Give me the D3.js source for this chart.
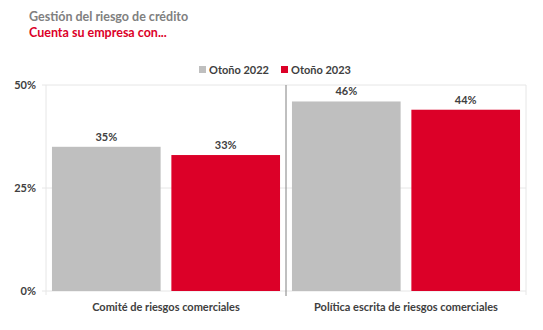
<!DOCTYPE html>
<html>
<head>
<meta charset="utf-8">
<script src="https://cdn.jsdelivr.net/npm/d3@7"></script>
<style>
  body { margin: 0; background: #fff; }
  text { font-family: Lato, "Open Sans", sans-serif; }
</style>
</head>
<body>
<div class="js-chart"></div>
<script>
'use strict';

//chart data
var categories = ['Comité de riesgos comerciales', 'Política escrita de riesgos comerciales'];
var seriesNames = ['Otoño 2022', 'Otoño 2023'];
var seriesColors = ['#bfbfbf', '#dc0028'];
var values2022 = [35, 46];
var values2023 = [33, 44];
var yTicks = [0, 25, 50];

var W = 543, H = 330;
var margin = { top: 85, right: 17, bottom: 39, left: 46 };

var svg = d3.select('.js-chart').append('svg')
    .attr('width', W)
    .attr('height', H);

//title lines
svg.append('text')
    .attr('x', 29).attr('y', 21)
    .style('font-size', '12.5px').style('font-weight', 700)
    .style('fill', '#808080')
    .text('Gestión del riesgo de crédito');
svg.append('text')
    .attr('x', 29).attr('y', 37)
    .style('font-size', '12.5px').style('font-weight', 700)
    .style('fill', '#dc0028')
    .text('Cuenta su empresa con...');

var x0 = d3.scaleBand()
    .domain(categories)
    .range([margin.left, W - margin.right])
    .paddingInner(0)
    .paddingOuter(0);

var x1 = d3.scaleBand()
    .domain(seriesNames)
    .range([0, x0.bandwidth()])
    .paddingInner(0.09)
    .paddingOuter(0.05);

var y = d3.scaleLinear()
    .domain([0, 50])
    .range([H - margin.bottom, margin.top]);

//gridlines
svg.selectAll('.js-grid').data(yTicks).enter().append('line')
    .attr('class', 'js-grid')
    .attr('x1', margin.left - 4)
    .attr('x2', W - margin.right)
    .attr('y1', function (d) { return y(d); })
    .attr('y2', function (d) { return y(d); })
    .style('stroke', '#e6e6e6');

//plot borders
svg.append('line')
    .attr('x1', margin.left).attr('x2', margin.left)
    .attr('y1', y(50)).attr('y2', y(0) + 4)
    .style('stroke', '#e6e6e6');
svg.append('line')
    .attr('x1', W - margin.right).attr('x2', W - margin.right)
    .attr('y1', y(50)).attr('y2', y(0) + 4)
    .style('stroke', '#e6e6e6');

//y tick labels
svg.selectAll('.js-ytick').data(yTicks).enter().append('text')
    .attr('class', 'js-ytick')
    .attr('x', 36)
    .attr('y', function (d) { return y(d) + 4; })
    .attr('text-anchor', 'end')
    .style('font-size', '11px').style('font-weight', 700)
    .style('fill', '#404040')
    .text(function (d) { return d + '%'; });

//bars
var rows = categories.map(function (c, i) {
    return [
        { cat: c, series: seriesNames[0], value: values2022[i], color: seriesColors[0] },
        { cat: c, series: seriesNames[1], value: values2023[i], color: seriesColors[1] }
    ];
});
var bars = d3.merge(rows);

svg.selectAll('.js-bar').data(bars).enter().append('rect')
    .attr('class', 'js-bar')
    .attr('x', function (d) { return x0(d.cat) + x1(d.series); })
    .attr('y', function (d) { return y(d.value); })
    .attr('width', x1.bandwidth())
    .attr('height', function (d) { return y(0) - y(d.value); })
    .style('fill', function (d) { return d.color; });

//value labels
svg.selectAll('.js-val').data(bars).enter().append('text')
    .attr('class', 'js-val')
    .attr('x', function (d) { return x0(d.cat) + x1(d.series) + x1.bandwidth() / 2; })
    .attr('y', function (d) { return y(d.value) - 6; })
    .attr('text-anchor', 'middle')
    .style('font-size', '11px').style('font-weight', 700)
    .style('fill', '#404040')
    .text(function (d) { return d.value + '%'; });

//separator between categories
svg.selectAll('.js-sep').data(categories.slice(1)).enter().append('line')
    .attr('class', 'js-sep')
    .attr('x1', function (d) { return x0(d); })
    .attr('x2', function (d) { return x0(d); })
    .attr('y1', y(50))
    .attr('y2', y(0) + 5)
    .style('stroke', '#808080');

//category labels
svg.selectAll('.js-cat').data(categories).enter().append('text')
    .attr('class', 'js-cat')
    .attr('x', function (d) { return x0(d) + x0.bandwidth() / 2; })
    .attr('y', 311)
    .attr('text-anchor', 'middle')
    .style('font-size', '11px').style('font-weight', 700)
    .style('fill', '#404040')
    .text(function (d) { return d; });

//legend
var legendX = [199, 281];
var legend = svg.selectAll('.js-leg').data(seriesNames).enter().append('g')
    .attr('class', 'js-leg')
    .attr('transform', function (d, i) { return 'translate(' + legendX[i] + ',66)'; });
legend.append('rect')
    .attr('width', 7).attr('height', 7)
    .style('fill', function (d, i) { return seriesColors[i]; });
legend.append('text')
    .attr('x', 10).attr('y', 8)
    .style('font-size', '11px').style('font-weight', 700)
    .style('fill', '#404040')
    .text(function (d) { return d; });
</script>
</body>
</html>
